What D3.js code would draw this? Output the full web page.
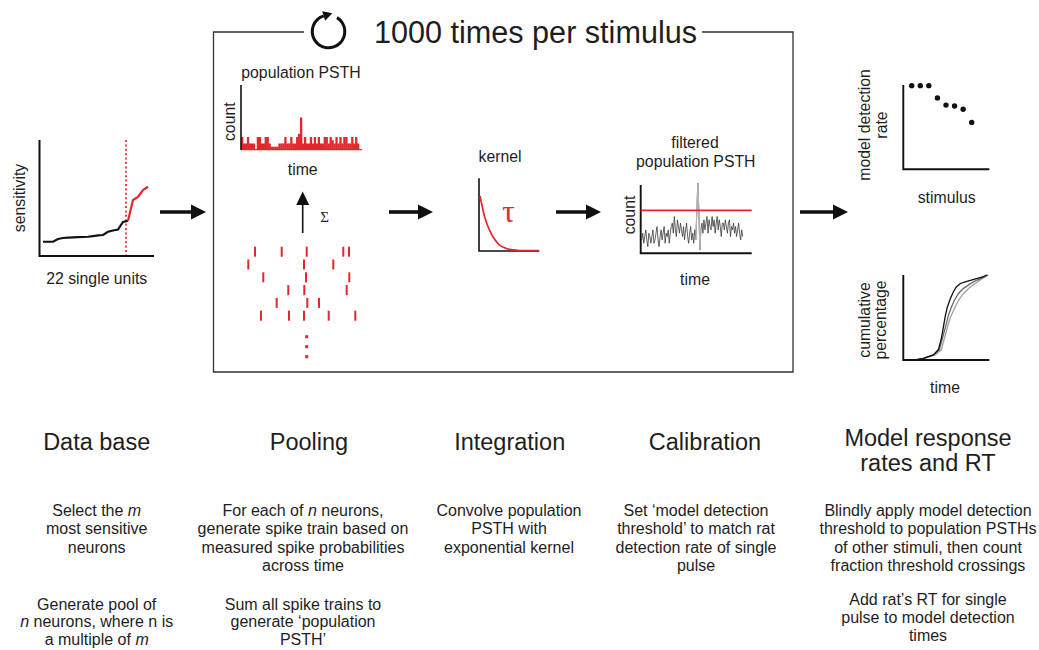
<!DOCTYPE html>
<html><head><meta charset="utf-8">
<script src="https://cdn.jsdelivr.net/npm/d3@7"></script>
<style>
body{margin:0;background:#fff}
svg{display:block}
text{font-family:"Liberation Sans",Arial,sans-serif;fill:#1e1e1e}
</style>
</head><body>
<svg id="c" width="1039" height="650"></svg>
<script>
// ---------------- data ----------------
const sensitivity = [0.123,0.123,0.123,0.147,0.155,0.158,0.160,0.162,0.164,0.166,0.172,0.177,0.181,0.209,0.220,0.228,0.293,0.304,0.483,0.509,0.569,0.597];
const firstSelected = 17; // m most sensitive units start here
const cutoffUnit = 16.6;
const psthCounts = [4,2,2,4,2,2,2,0,4,4,2,2,4,4,2,1,1,1,1,2,2,2,4,2,2,4,2,2,4,5,10,2,4,2,2,4,2,4,2,4,2,2,4,4,2,4,3,2,4,2,4,2,4,4,2,2,4,2,4,2];
const rasterRows = [
  [255,281.7,306.7,343.3,349],
  [248.3,304,333.3],
  [263.3,306,349.3],
  [288.3,304.3,346.7],
  [276.7,307.3,319],
  [261,289,304,328.7,355.3]
];
const kernelValues = [1.0,0.6,0.36,0.2,0.1,0.05,0.02,0.01,0,0,0,0,0];
const filteredTrace = [4,6,3,5,7,4,2,6,5,3,
  5,7,3,4,6,8,4,2,5,7,
  4,6,8,3,6,5,7,3,6,8,
  9,6,11,7,5,10,8,6,9,7,
  5,8,4,7,9,5,3,6,8,4,
  6,3,7,4,12,21,13,1,7,9,
  6,10,7,9,11,6,10,8,7,11,
  8,10,6,9,11,7,10,8,5,9,
  9,7,10,8,6,9,10,5,8,7,
  9,6,8,5,7,9,6,4,7,5];
const spikeSegment = [53,58];
const threshold = 12.8;
const detectionRate = [0.99,0.99,0.99,0.845,0.76,0.75,0.71,0.555];
const rtBlack = [[12,0],[20,0.02],[30,0.06],[35,0.12],[38,0.25],[40,0.38],[42,0.52],[44,0.62],[47,0.72],[50,0.8],[53,0.86],[57,0.9],[62,0.92],[68,0.94],[74,0.96],[80,0.98],[84,1.0]];
const rtDark  = [[12,0],[20,0.02],[30,0.06],[36,0.12],[39,0.25],[42,0.38],[45,0.52],[48,0.62],[51,0.7],[55,0.78],[60,0.84],[66,0.89],[72,0.93],[78,0.96],[84,1.0]];
const rtLight = [[12,0],[22,0.02],[32,0.06],[38,0.12],[41,0.25],[44,0.38],[47,0.5],[51,0.6],[55,0.7],[60,0.78],[66,0.85],[72,0.9],[78,0.95],[85,1.0]];

const headers = [
  {x:96.7, lines:["Data base"], y:450},
  {x:309, lines:["Pooling"], y:450},
  {x:509.7, lines:["Integration"], y:450},
  {x:705, lines:["Calibration"], y:450},
  {x:928, lines:["Model response","rates and RT"], y:445.5}
];
const descriptions = [
  {x:96.7, y:516, lh:18.3, lines:["Select the *m*","most sensitive","neurons"]},
  {x:303, y:516, lh:18.3, lines:["For each of *n* neurons,","generate spike train based on","measured spike probabilities","across time"]},
  {x:509, y:516, lh:18.3, lines:["Convolve population","PSTH with","exponential kernel"]},
  {x:696, y:516, lh:18.3, lines:["Set \u2018model detection","threshold\u2019 to match rat","detection rate of single","pulse"]},
  {x:928, y:516, lh:18.3, lines:["Blindly apply model detection","threshold to population PSTHs","of other stimuli, then count","fraction threshold crossings"]},
  {x:96.7, y:609.5, lh:17.8, lines:["Generate pool of","*n* neurons, where n is","a multiple of *m*"]},
  {x:303, y:609.5, lh:17.8, lines:["Sum all spike trains to","generate \u2018population","PSTH\u2019"]},
  {x:928, y:605, lh:18, lines:["Add rat\u2019s RT for single","pulse to model detection","times"]}
];
const title = "1000 times per stimulus";

// ---------------- drawing ----------------
const RED = "#e3272d";
const svg = d3.select("#c");

function label(x, y, str, size, opts={}) {
  const t = svg.append("text").attr("x", x).attr("y", y)
    .attr("font-size", size).attr("text-anchor", opts.anchor || "middle");
  if (opts.rotate) t.attr("transform", `rotate(-90,${x},${y})`);
  if (opts.fill) t.style("fill", opts.fill);
  if (opts.family) t.style("font-family", opts.family);
  t.text(str);
  return t;
}
function multi(x, y, lines, size, lh) {
  lines.forEach((ln, i) => {
    const t = svg.append("text").attr("x", x).attr("y", y + i*lh)
      .attr("font-size", size).attr("text-anchor", "middle");
    ln.split("*").forEach((part, j) => {
      if (!part) return;
      const s = t.append("tspan").text(part);
      if (j % 2 === 1) s.attr("font-style", "italic");
    });
  });
}
function axesL(x0, yTop, yBot, xEnd, w) {
  svg.append("path").attr("d", `M${x0},${yTop}V${yBot}H${xEnd}`)
    .attr("fill","none").attr("stroke","#111").attr("stroke-width", w);
}

// Box with gap in top border
svg.append("path").attr("d","M304,32H213.5V372H793V32H702")
  .attr("fill","none").attr("stroke","#333").attr("stroke-width",1.3);

// circular arrow icon
{
  const cx = 328.5, cy = 31.5, r = 16.3;
  const arc = d3.arc().innerRadius(r-1.5).outerRadius(r+1.5).startAngle(0.55).endAngle(2*Math.PI - 0.3);
  svg.append("path").attr("d", arc()).attr("transform",`translate(${cx},${cy})`).attr("fill","#111");
  const a = -0.3;
  const px = cx + r*Math.sin(a), py = cy - r*Math.cos(a);
  const tx = Math.cos(a), ty = Math.sin(a);
  const nx = Math.sin(a), ny = -Math.cos(a);
  const tip = [px + 9*tx, py + 9*ty];
  svg.append("path").attr("d",
    `M${px+5*nx},${py+5*ny}L${tip[0]},${tip[1]}L${px-5*nx},${py-5*ny}Z`).attr("fill","#111");
}
label(535.5, 43, title, 30.6);

// Panel 1: sensitivity
{
  const x = d3.scaleLinear().domain([0,21]).range([43,148]);
  const y = d3.scaleLinear().domain([0,1]).range([256,140]);
  axesL(39.5, 140, 256, 154, 2);
  svg.append("line").attr("x1", x(cutoffUnit)).attr("x2", x(cutoffUnit)).attr("y1",140).attr("y2",255)
    .attr("stroke",RED).attr("stroke-width",1.7).attr("stroke-dasharray","2,2.4");
  const line = d3.line().x((d,i)=>x(d.i)).y(d=>y(d.v));
  const pts = sensitivity.map((v,i)=>({i,v}));
  svg.append("path").attr("d", line(pts.slice(0, firstSelected+1))).attr("fill","none").attr("stroke","#111").attr("stroke-width",2.2);
  svg.append("path").attr("d", line(pts.slice(firstSelected))).attr("fill","none").attr("stroke",RED).attr("stroke-width",2.2);
  label(25, 198, "sensitivity", 15.8, {rotate:true});
  label(96.7, 283.5, "22 single units", 15.8);
}

// Panel 2: population PSTH
{
  const x = d3.scaleLinear().domain([0, psthCounts.length]).range([241, 359]);
  const y = d3.scaleLinear().domain([0,20]).range([150,85]);
  const bw = x(1)-x(0);
  svg.append("g").selectAll("rect").data(psthCounts).join("rect")
    .attr("x",(d,i)=>x(i)).attr("width", d=> d===0 ? 0 : bw+0.35)
    .attr("y", d=>y(d)).attr("height", d=>y(0)-y(d)).attr("fill", RED);
  svg.append("line").attr("x1",241).attr("x2",362).attr("y1",149.6).attr("y2",149.6).attr("stroke",RED).attr("stroke-width",1.2);
  svg.append("line").attr("x1",241).attr("x2",241).attr("y1",85).attr("y2",150).attr("stroke","#111").attr("stroke-width",1.6);
  label(301, 78, "population PSTH", 15.8);
  label(235, 121.7, "count", 15.8, {rotate:true});
  label(302.7, 175, "time", 15.8);

  // up arrow with sigma
  svg.append("line").attr("x1",302.7).attr("x2",302.7).attr("y1",233).attr("y2",204).attr("stroke","#111").attr("stroke-width",1.6);
  svg.append("path").attr("d","M296.2,205L302.7,191.5L309.2,205Z").attr("fill","#111");
  label(324.5, 222, "\u03A3", 15, {family:"'Liberation Serif','DejaVu Serif',serif"});

  // raster
  const rowY = d3.scalePoint().domain(d3.range(rasterRows.length)).range([251.7, 315.7]);
  rasterRows.forEach((row, r) => {
    svg.append("g").selectAll("rect").data(row).join("rect")
      .attr("x", d=>d-1).attr("width",2).attr("y", rowY(r)-5).attr("height",10).attr("fill",RED);
  });
  [336.7,346.7,356.7].forEach(yy => svg.append("rect").attr("x",305.2).attr("y",yy-1.5).attr("width",3).attr("height",3).attr("fill",RED));
}

// Panel 3: kernel
{
  const x = d3.scaleLinear().domain([0,12]).range([480,539]);
  const y = d3.scaleLinear().domain([0,1]).range([250.5,196]);
  axesL(479, 178.3, 251, 539.3, 1.6);
  svg.append("path").attr("d", d3.line().x((d,i)=>x(i)).y(d=>y(d)).curve(d3.curveMonotoneX)(kernelValues))
    .attr("fill","none").attr("stroke",RED).attr("stroke-width",1.7);
  label(500, 161.7, "kernel", 15.8);
  label(508.5, 221.5, "\u03C4", 31, {fill:RED, family:"'Liberation Serif','DejaVu Serif',serif"});
}

// Panel 4: filtered population PSTH
{
  const x = d3.scaleLinear().domain([0, filteredTrace.length-1]).range([641.7,742.7]);
  const y = d3.scaleLinear().domain([0,21]).range([253.3,183]);
  const ln = d3.line().x((d,i)=>x(i)).y(d=>y(d));
  svg.append("path").attr("d", ln(filteredTrace)).attr("fill","none").attr("stroke","#3a3a3a").attr("stroke-width",0.8);
  const seg = filteredTrace.slice(spikeSegment[0], spikeSegment[1]+1);
  svg.append("path").attr("d", d3.line().x((d,i)=>x(i+spikeSegment[0])).y(d=>y(d))(seg))
    .attr("fill","none").attr("stroke","#b5b5b5").attr("stroke-width",1.2);
  axesL(640.7, 185, 253.3, 751.7, 1.9);
  svg.append("line").attr("x1",640.7).attr("x2",751.7).attr("y1",y(threshold)).attr("y2",y(threshold)).attr("stroke",RED).attr("stroke-width",1.8);
  label(695, 148.3, "filtered", 15.8);
  label(695.8, 166.7, "population PSTH", 15.8);
  label(635, 215, "count", 15.8, {rotate:true});
  label(695, 285, "time", 15.8);
}

// Panel 5: detection rate
{
  const x = d3.scaleLinear().domain([0, detectionRate.length-1]).range([911.7,971.7]);
  const y = d3.scaleLinear().domain([0,1]).range([169.3,84.8]);
  axesL(903.3, 85, 169.3, 989.3, 1.9);
  svg.append("g").selectAll("circle").data(detectionRate).join("circle")
    .attr("cx",(d,i)=>x(i)).attr("cy",d=>y(d)).attr("r",2.7).attr("fill","#111");
  label(870, 125, "model detection", 15.8, {rotate:true});
  label(887, 125, "rate", 15.8, {rotate:true});
  label(946.7, 203.3, "stimulus", 15.8);
}

// Panel 6: cumulative RT
{
  const x = d3.scaleLinear().domain([0,86]).range([903.3,989.3]);
  const y = d3.scaleLinear().domain([0,1]).range([360,275]);
  const ln = d3.line().x(d=>x(d[0])).y(d=>y(d[1]));
  [[rtLight,"#a0a0a0"],[rtDark,"#6a6a6a"],[rtBlack,"#111"]].forEach(([d,c]) =>
    svg.append("path").attr("d", ln(d)).attr("fill","none").attr("stroke",c).attr("stroke-width",1.3));
  axesL(903.3, 275, 360, 989.3, 1.9);
  label(870, 320, "cumulative", 15.8, {rotate:true});
  label(886, 320, "percentage", 15.8, {rotate:true});
  label(945, 393.3, "time", 15.8);
}

// Big arrows
[[160,206],[389,433],[556,601],[800,848]].forEach(([x0,x1]) => {
  svg.append("line").attr("x1",x0).attr("x2",x1-12).attr("y1",212).attr("y2",212).attr("stroke","#111").attr("stroke-width",3.6);
  svg.append("path").attr("d",`M${x1-15},204.5L${x1},212L${x1-15},219.5Z`).attr("fill","#111");
});

// Headers & descriptions
headers.forEach(h => multi(h.x, h.y, h.lines, 23.5, 25.5));
descriptions.forEach(d => multi(d.x, d.y, d.lines, 16, d.lh));
</script>
</body></html>
